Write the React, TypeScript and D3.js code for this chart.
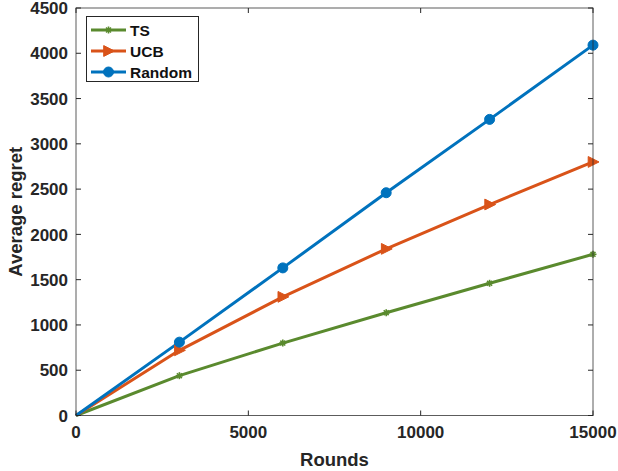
import React from "react";
import * as d3 from "d3";

const rounds = [0, 3000, 6000, 9000, 12000, 15000];
const tsValues = [0, 440, 800, 1135, 1460, 1780];
const ucbValues = [0, 720, 1310, 1840, 2330, 2800];
const randomValues = [0, 810, 1630, 2460, 3270, 4090];
const xTicks = [0, 5000, 10000, 15000];
const yTicks = [0, 500, 1000, 1500, 2000, 2500, 3000, 3500, 4000, 4500];
const seriesNames = ["TS", "UCB", "Random"];
const seriesColors = ["#5a8a2e", "#D95319", "#0072BD"];

const W = 618, H = 471;
const L = 76, R = 593, T = 8, B = 415.5;

function Marker({ kind, x, y, color }: { kind: number; x: number; y: number; color: string }) {
  if (kind === 0) {
    const s = 3.5;
    return (
      <g stroke={color} strokeWidth={1.6}>
        <line x1={x - s} y1={y} x2={x + s} y2={y} />
        <line x1={x} y1={y - s} x2={x} y2={y + s} />
        <line x1={x - s * 0.7} y1={y - s * 0.7} x2={x + s * 0.7} y2={y + s * 0.7} />
        <line x1={x - s * 0.7} y1={y + s * 0.7} x2={x + s * 0.7} y2={y - s * 0.7} />
      </g>
    );
  }
  if (kind === 1) {
    const s = 6;
    return <path d={`M${x + s},${y} L${x - s * 0.8},${y - s * 0.9} L${x - s * 0.8},${y + s * 0.9} Z`} fill={color} stroke={color} strokeWidth={1} />;
  }
  return <circle cx={x} cy={y} r={5} fill={color} stroke={color} strokeWidth={1} />;
}

export default function App() {
  const x = d3.scaleLinear().domain([0, 15000]).range([L, R]);
  const y = d3.scaleLinear().domain([0, 4500]).range([B, T]);
  const all = [tsValues, ucbValues, randomValues];
  const line = d3.line<[number, number]>().x(d => x(d[0])).y(d => y(d[1]));
  const font = "'Liberation Sans', Arial, Helvetica, sans-serif";
  const axisColor = "#262626";
  return (
    <svg width={W} height={H} style={{ position: "absolute", left: 0, top: 0 }} fontFamily={font}>
      <rect x={0} y={0} width={W} height={H} fill="white" />
      {all.map((vals, i) => (
        <path key={i} d={line(rounds.map((r, j) => [r, vals[j]]) as [number, number][]) || ""} fill="none" stroke={seriesColors[i]} strokeWidth={3} strokeLinejoin="round" />
      ))}
      {all.map((vals, i) =>
        rounds.map((r, j) => (j === 0 ? null : <Marker key={`${i}-${j}`} kind={i} x={x(r)} y={y(vals[j])} color={seriesColors[i]} />))
      )}
      <rect x={L} y={T} width={R - L} height={B - T} fill="none" stroke={axisColor} strokeWidth={1} opacity={0.75} />
      {yTicks.map(t => (
        <g key={`y${t}`}>
          <line x1={L} x2={L + 5} y1={y(t)} y2={y(t)} stroke={axisColor} />
          <line x1={R} x2={R - 5} y1={y(t)} y2={y(t)} stroke={axisColor} />
          <text x={L - 8} y={y(t)} dy="0.36em" textAnchor="end" fontSize={17} fontWeight="bold" fill="#262626">{t}</text>
        </g>
      ))}
      {xTicks.map(t => (
        <g key={`x${t}`}>
          <line x1={x(t)} x2={x(t)} y1={B} y2={B - 5} stroke={axisColor} />
          <line x1={x(t)} x2={x(t)} y1={T} y2={T + 5} stroke={axisColor} />
          <text x={x(t)} y={B + 22} textAnchor="middle" fontSize={17} fontWeight="bold" fill="#262626">{t}</text>
        </g>
      ))}
      <text x={(L + R) / 2} y={466} textAnchor="middle" fontSize={18.5} fontWeight="bold" fill="#262626">Rounds</text>
      <text transform={`translate(22,${(T + B) / 2}) rotate(-90)`} textAnchor="middle" fontSize={18.5} fontWeight="bold" fill="#262626">Average regret</text>
      <rect x={86.5} y={16.5} width={112} height={65} fill="white" stroke={axisColor} strokeWidth={1} />
      {seriesNames.map((n, i) => {
        const ly = 30 + i * 21;
        return (
          <g key={n}>
            <line x1={91} x2={126} y1={ly} y2={ly} stroke={seriesColors[i]} strokeWidth={3} />
            <Marker kind={i} x={108.5} y={ly} color={seriesColors[i]} />
            <text x={130} y={ly} dy="0.36em" fontSize={15.5} fontWeight="bold" fill="#111">{n}</text>
          </g>
        );
      })}
    </svg>
  );
}
